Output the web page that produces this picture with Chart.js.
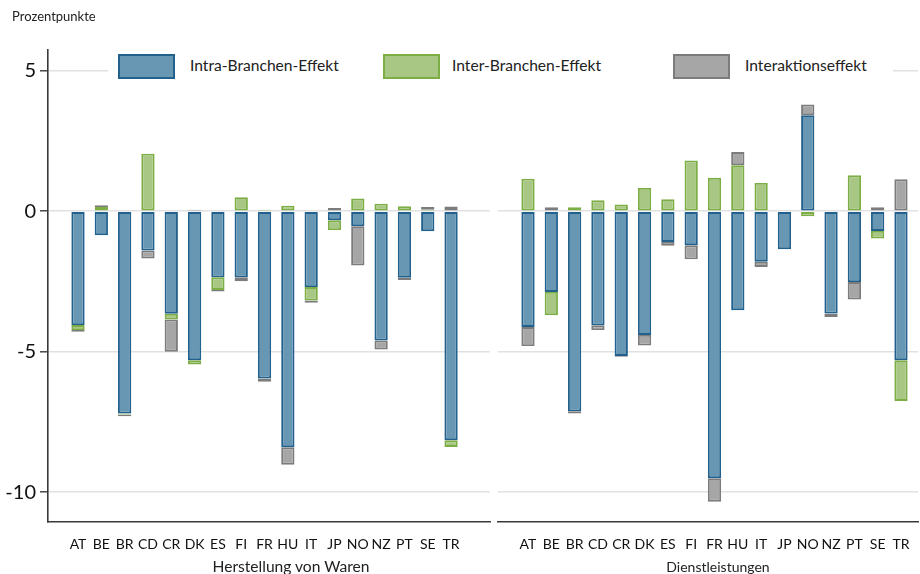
<!DOCTYPE html>
<html>
<head>
<meta charset="utf-8">
<script src="https://cdn.jsdelivr.net/npm/chart.js@4.4.0/dist/chart.umd.min.js"></script>
<style>
  html, body { margin: 0; padding: 0; background: #fff; }
  #wrap { position: relative; width: 920px; height: 574px; overflow: hidden; font-family: Lato, "Open Sans", sans-serif; color: #222; }
  canvas { position: absolute; top: 0; }
  .txt { position: absolute; white-space: nowrap; }
  #legend { position: absolute; left: 108px; top: 52px; width: 785px; height: 30px; background: #fff; }
  .lbox { position: absolute; box-sizing: border-box; width: 57px; height: 25px; border: 2px solid; }
  .ltxt { position: absolute; font-size: 15.6px; line-height: 25px; white-space: nowrap; }
</style>
</head>
<body>
<div id="wrap">
  <canvas id="cLeft" width="494" height="574" style="left:0px"></canvas>
  <canvas id="cRight" width="426" height="574" style="left:494px"></canvas>
  <div class="txt" style="left:12px; top:8px; font-size:13px;">Prozentpunkte</div>
  <div id="legend"></div>
  <div class="txt" id="t1" style="left:291px; top:557px; font-size:15.6px; transform:translateX(-50%);">Herstellung von Waren</div>
  <div class="txt" id="t2" style="left:718px; top:558px; font-size:14px; transform:translateX(-50%);">Dienstleistungen</div>
</div>
<script>
// ---- Data ----
const categories = ['AT','BE','BR','CD','CR','DK','ES','FI','FR','HU','IT','JP','NO','NZ','PT','SE','TR'];
const seriesNames = ['Intra-Branchen-Effekt', 'Inter-Branchen-Effekt', 'Interaktionseffekt'];
const yTicks = [-10, -5, 0, 5];

// Herstellung von Waren
const intraWaren    = [-4.05,-0.85,-7.20,-1.40,-3.65,-5.30,-2.35,-2.35,-5.95,-8.40,-2.70,-0.32,-0.53,-4.60,-2.37,-0.71,-8.15];
const interWaren    = [-0.18, 0.15,-0.03, 2.05,-0.20,-0.15,-0.45, 0.50, 0.05, 0.20,-0.48,-0.35, 0.45, 0.27, 0.18, 0.05,-0.24];
const interaktWaren = [-0.06, 0.06,-0.07,-0.28,-1.15, 0.05,-0.06,-0.14,-0.12,-0.62,-0.08, 0.12,-1.40,-0.32,-0.08, 0.10, 0.17];

// Dienstleistungen
const intraDienst    = [-4.12,-2.87,-7.12,-4.06,-5.15,-4.40,-1.09,-1.21,-9.50,-3.52,-1.80,-1.35, 3.42,-3.64,-2.52,-0.70,-5.30];
const interDienst    = [ 1.16,-0.83, 0.14, 0.39, 0.24, 0.83, 0.43, 1.81, 1.19, 1.64, 1.01, 0.00,-0.18, 0.00, 1.28,-0.27,-1.45];
const interaktDienst = [-0.68, 0.14,-0.08,-0.17,-0.03,-0.38,-0.14,-0.50,-0.84, 0.47,-0.18, 0.00, 0.38,-0.12,-0.62, 0.14, 1.14];

// ---- Styles ----
const fills   = ['#6897b3', '#a9c784', '#a6a6a6'];
const borders = ['#22618d', '#7dae45', '#7c7c7c'];

// Legend (HTML overlay)
const legendPos = [[10, 82], [275, 344], [565, 637]];
const legendEl = document.getElementById('legend');
seriesNames.forEach((n, i) => {
  const b = document.createElement('div');
  b.className = 'lbox';
  b.style.left = legendPos[i][0] + 'px';
  b.style.top = '2px';
  b.style.background = fills[i];
  b.style.borderColor = borders[i];
  legendEl.appendChild(b);
  const t = document.createElement('div');
  t.className = 'ltxt';
  t.style.left = legendPos[i][1] + 'px';
  t.style.top = '1px';
  t.textContent = n;
  legendEl.appendChild(t);
});

function makeDatasets(arrs) {
  return arrs.map((arr, i) => ({
    label: seriesNames[i],
    data: arr.map((v, k) => ({ x: k, y: v })),
    backgroundColor: fills[i],
    borderColor: borders[i],
    borderWidth: 1.9,
    borderSkipped: false,
    categoryPercentage: 1,
    barPercentage: 0.57
  }));
}

function makeChart(id, arrs, showY, xMin, xMax, yWidth, padRight) {
  return new Chart(document.getElementById(id), {
    type: 'bar',
    data: { datasets: makeDatasets(arrs) },
    options: {
      responsive: false,
      animation: false,
      devicePixelRatio: 1,
      layout: { padding: { top: 50, right: padRight, bottom: 0, left: 0 } },
      plugins: { legend: { display: false }, tooltip: { enabled: false } },
      scales: {
        x: {
          type: 'linear',
          stacked: true,
          min: xMin,
          max: xMax,
          offset: false,
          afterBuildTicks: s => { s.ticks = categories.map((c, i) => ({ value: i })); },
          afterFit: s => { s.height = 52; },
          grid: { display: false },
          border: { display: true, color: '#3a3a3a', width: 1.6 },
          ticks: {
            autoSkip: false, maxRotation: 0, padding: 6,
            color: '#111',
            font: { family: 'Lato', size: 14 },
            callback: v => categories[v] ?? ''
          }
        },
        y: {
          stacked: true,
          min: -11.06,
          max: 5.74,
          afterBuildTicks: s => { s.ticks = yTicks.map(v => ({ value: v })); },
          afterFit: s => { s.width = yWidth; },
          grid: {
            color: '#e1e1e1', lineWidth: 1.6,
            drawTicks: showY, tickLength: 8, tickColor: '#3a3a3a', tickWidth: 1.4
          },
          border: { display: showY, color: '#3a3a3a', width: 1.6 },
          ticks: {
            display: showY, padding: 4,
            color: '#111',
            font: { family: 'Lato', size: 20 },
            callback: v => String(v)
          }
        }
      }
    }
  });
}

makeChart('cLeft',  [intraWaren, interWaren, interaktWaren],  true,  -1.287, 17.67, 48, 4);
makeChart('cRight', [intraDienst, interDienst, interaktDienst], false, -1.287, 16.73, 4, 2);
</script>
</body>
</html>
